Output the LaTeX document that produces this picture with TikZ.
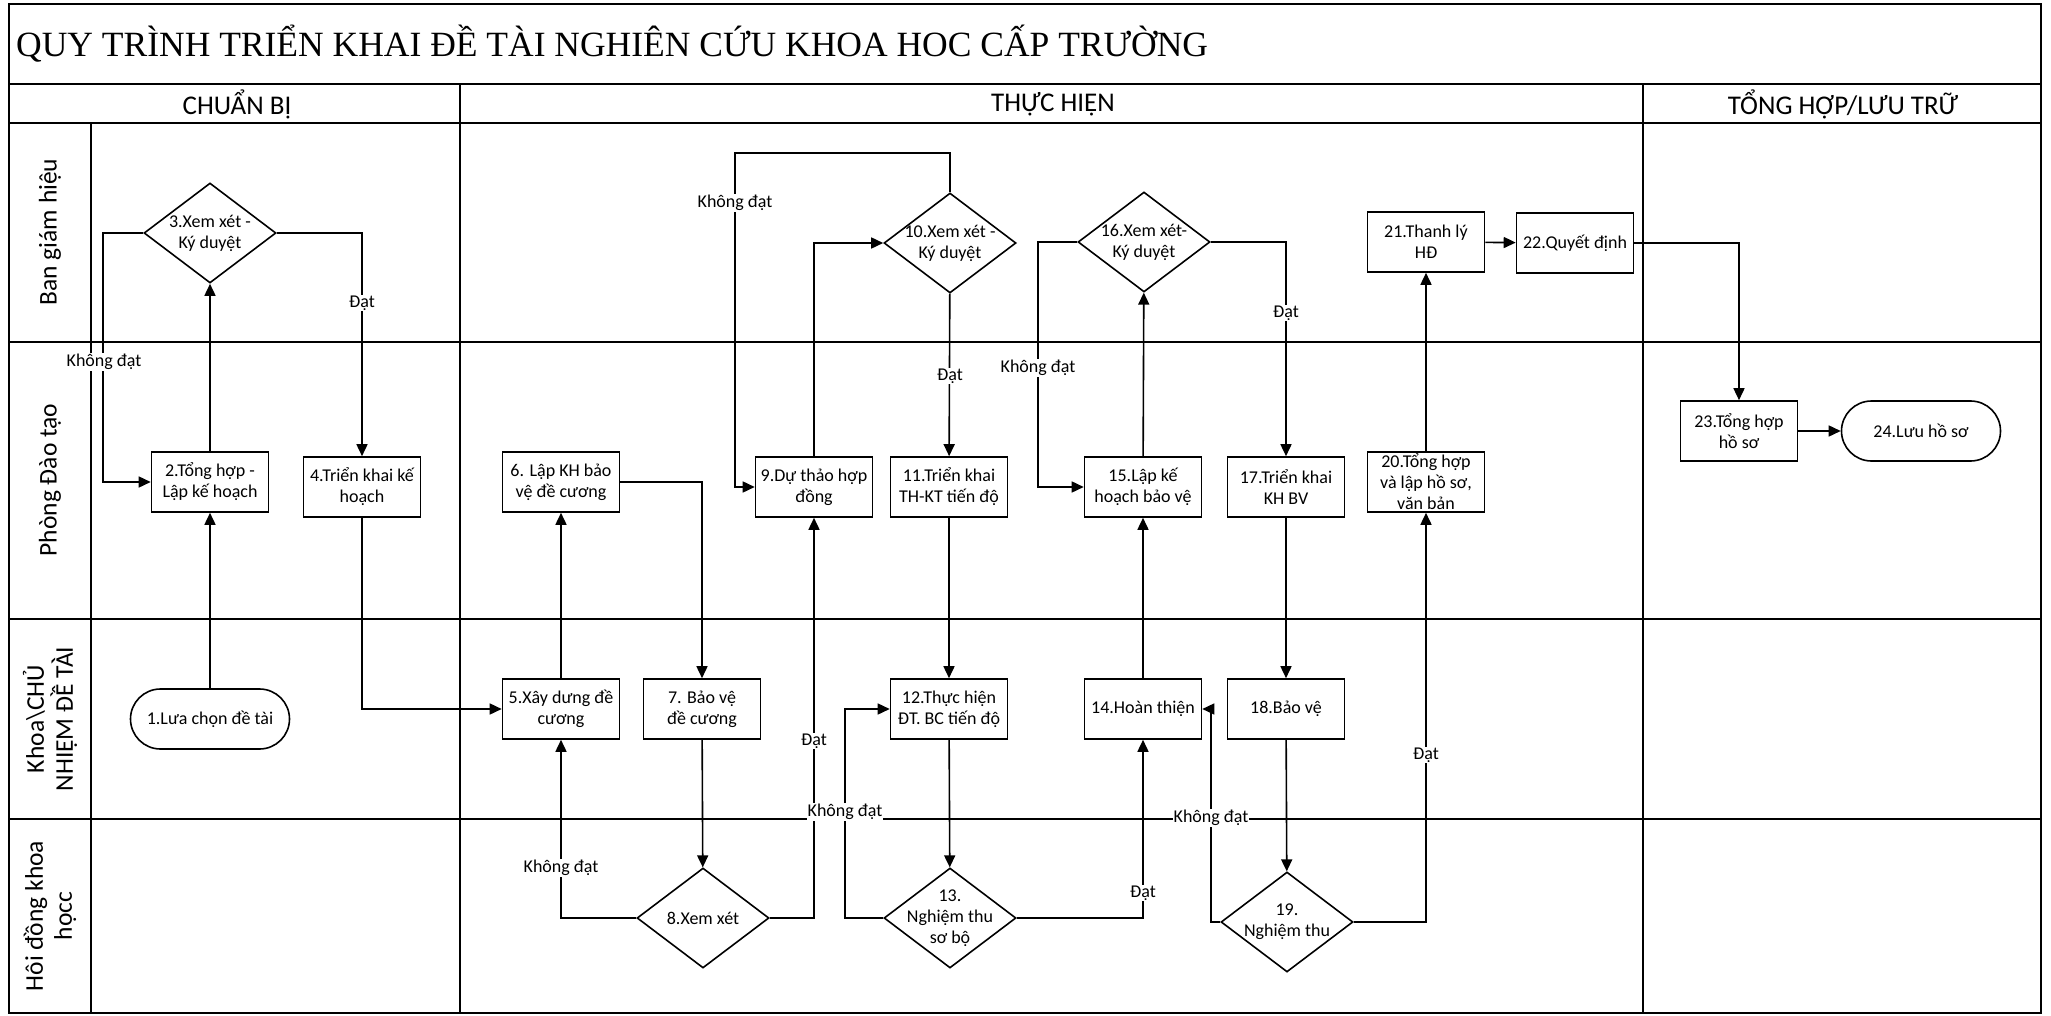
\documentclass[tikz,border=0pt]{standalone}
\usepackage{fontspec}
\setmainfont{Carlito}
\newfontfamily\titlefont{Liberation Serif}
\usetikzlibrary{arrows.meta,shapes.geometric}
\newcommand\mynodefont{\fontsize{18}{21}\selectfont}
\newcommand\mylanefont{\fontsize{25.5}{29}\selectfont}
\newcommand\myheadfont{\fontsize{27}{31}\selectfont}
\begin{document}
\begin{tikzpicture}[x=1pt,y=-1pt,
  frame/.style={line width=2.2pt},
  box/.style={draw, line width=1.6pt, rectangle, minimum width=117pt, minimum height=60pt, inner sep=1pt, align=center, font=\mynodefont},
  term/.style={box, rounded corners=30pt, minimum width=159pt},
  dia/.style={draw, line width=1.6pt, diamond, inner sep=0pt, minimum width=132pt, minimum height=100pt},
  dtext/.style={align=center, font=\mynodefont, inner sep=0pt},
  lbl/.style={fill=white, inner sep=1pt, font=\mynodefont},
  conn/.style={line width=1.6pt, -{Triangle[length=12pt,width=11pt]}},
  lane/.style={rotate=90, align=center, font=\mylanefont},
  head/.style={font=\myheadfont}
]
\useasboundingbox (0,0) rectangle (2051,1016);
% frame
\draw[frame] (9,4) rectangle (2041,1013);
\draw[frame] (9,84) -- (2041,84);
\draw[frame] (9,123) -- (2041,123);
\draw[frame] (460,84) -- (460,1013);
\draw[frame] (1643,84) -- (1643,1013);
\draw[frame] (91,123) -- (91,1013);
\draw[frame] (9,342) -- (2041,342);
\draw[frame] (9,619) -- (2041,619);
\draw[frame] (9,819) -- (2041,819);
% title and headers
\node[anchor=west, font=\titlefont\fontsize{35.5}{40}\selectfont, inner sep=0pt] (title) at (16,44) {QUY TRÌNH TRIỂN KHAI ĐỀ TÀI NGHIÊN CỨU KHOA HOC CẤP TRƯỜNG};
\node[head] (h1) at (237,104) {CHUẨN BỊ};
\node[head] (h2) at (1053,104) {THỰC HIỆN};
\node[head] (h3) at (1843,104) {TỔNG HỢP/LƯU TRỮ};
% lanes
\node[lane] (l1) at (50,232) {Ban giám hiệu};
\node[lane] (l2) at (50,480) {Phòng Đào tạo};
\node[lane] (l3) at (50,719) {Khoa\textbackslash CHỦ\\NHIỆM ĐỀ TÀI};
\node[lane] (l4) at (50,916) {Hôi đồng khoa\\họcc};
% nodes
\node[term] (n1) at (210,719) {1.Lưa chọn đề tài};
\node[box] (n2) at (210,482) {2.Tổng hợp -\\Lập kế hoạch};
\node[dia, label={[dtext]center:3.Xem xét -\\Ký duyệt}] (n3) at (210,233) {};
\node[box] (n4) at (362,487) {4.Triển khai kế\\hoạch};
\node[box] (n5) at (561,709) {5.Xây dưng đề\\cương};
\node[box] (n6) at (561,482) {6. Lập KH bảo\\vệ đề cương};
\node[box] (n7) at (702,709) {7. Bảo vệ\\đề cương};
\node[dia, label={[dtext]center:8.Xem xét}] (n8) at (703,918) {};
\node[box] (n9) at (814,487) {9.Dự thảo hợp\\đồng};
\node[dia, label={[dtext]center:10.Xem xét -\\Ký duyệt}] (n10) at (950,243) {};
\node[box] (n11) at (949,487) {11.Triển khai\\TH-KT tiến độ};
\node[box] (n12) at (949,709) {12.Thực hiện\\ĐT. BC tiến độ};
\node[dia, label={[dtext]center:13.\\Nghiệm thu\\sơ bộ}] (n13) at (950,918) {};
\node[box] (n14) at (1143,709) {14.Hoàn thiện};
\node[box] (n15) at (1143,487) {15.Lập kế\\hoạch bảo vệ};
\node[dia, label={[dtext]center:16.Xem xét-\\Ký duyệt}] (n16) at (1144,242) {};
\node[box] (n17) at (1286,487) {17.Triển khai\\KH BV};
\node[box] (n18) at (1286,709) {18.Bảo vệ};
\node[dia, label={[dtext]center:19.\\Nghiệm thu}] (n19) at (1287,922) {};
\node[box] (n20) at (1426,482) {20.Tổng hợp\\và lập hồ sơ,\\văn bản};
\node[box] (n21) at (1426,242) {21.Thanh lý\\HĐ};
\node[box] (n22) at (1575,243) {22.Quyết định};
\node[box] (n23) at (1739,431) {23.Tổng hợp\\hồ sơ};
\node[term] (n24) at (1921,431) {24.Lưu hồ sơ};
% bend points
\coordinate (k3) at (103,233);
\coordinate (k10a) at (950,153);
\coordinate (k10b) at (735,153);
\coordinate (k13) at (845,918);
\coordinate (k16) at (1038,242);
\coordinate (k19) at (1211,922);
% connectors
\draw[conn] (n1) -- (n2);
\draw[conn] (n2) -- (n3);
\draw[conn] (n3.west) -- (k3) |- (n2.west);
\draw[conn] (n3.east) -| (n4.north);
\draw[conn] (n4.south) |- (n5.west);
\draw[conn] (n5) -- (n6);
\draw[conn] (n6.east) -| (n7.north);
\draw[conn] (n7) -- (n8);
\draw[conn] (n8.west) -| (n5.south);
\draw[conn] (n8.east) -| (n9.south);
\draw[conn] (n9.north) |- (n10.west);
\draw[conn] (n10.north) -- (k10a) -- (k10b) |- (n9.west);
\draw[conn] (n10) -- (n11);
\draw[conn] (n11) -- (n12);
\draw[conn] (n12) -- (n13);
\draw[conn] (n13.west) -- (k13) |- (n12.west);
\draw[conn] (n13.east) -| (n14.south);
\draw[conn] (n14) -- (n15);
\draw[conn] (n15) -- (n16);
\draw[conn] (n16.west) -- (k16) |- (n15.west);
\draw[conn] (n16.east) -| (n17.north);
\draw[conn] (n17) -- (n18);
\draw[conn] (n18) -- (n19);
\draw[conn] (n19.west) -- (k19) |- (n14.east);
\draw[conn] (n19.east) -| (n20.south);
\draw[conn] (n20) -- (n21);
\draw[conn] (n21) -- (n22);
\draw[conn] (n22.east) -| (n23.north);
\draw[conn] (n23) -- (n24);
% labels
\node[lbl] (a1) at (104,362) {Không đạt};
\node[lbl] (a2) at (362,303) {Đạt};
\node[lbl] (a3) at (561,868) {Không đạt};
\node[lbl] (a4) at (814,741) {Đạt};
\node[lbl] (a5) at (735,203) {Không đạt};
\node[lbl] (a6) at (950,376) {Đạt};
\node[lbl] (a7) at (845,812) {Không đạt};
\node[lbl] (a8) at (1143,893) {Đạt};
\node[lbl] (a9) at (1038,368) {Không đạt};
\node[lbl] (a10) at (1286,313) {Đạt};
\node[lbl] (a11) at (1211,818) {Không đạt};
\node[lbl] (a12) at (1426,755) {Đạt};
\end{tikzpicture}
\end{document}
